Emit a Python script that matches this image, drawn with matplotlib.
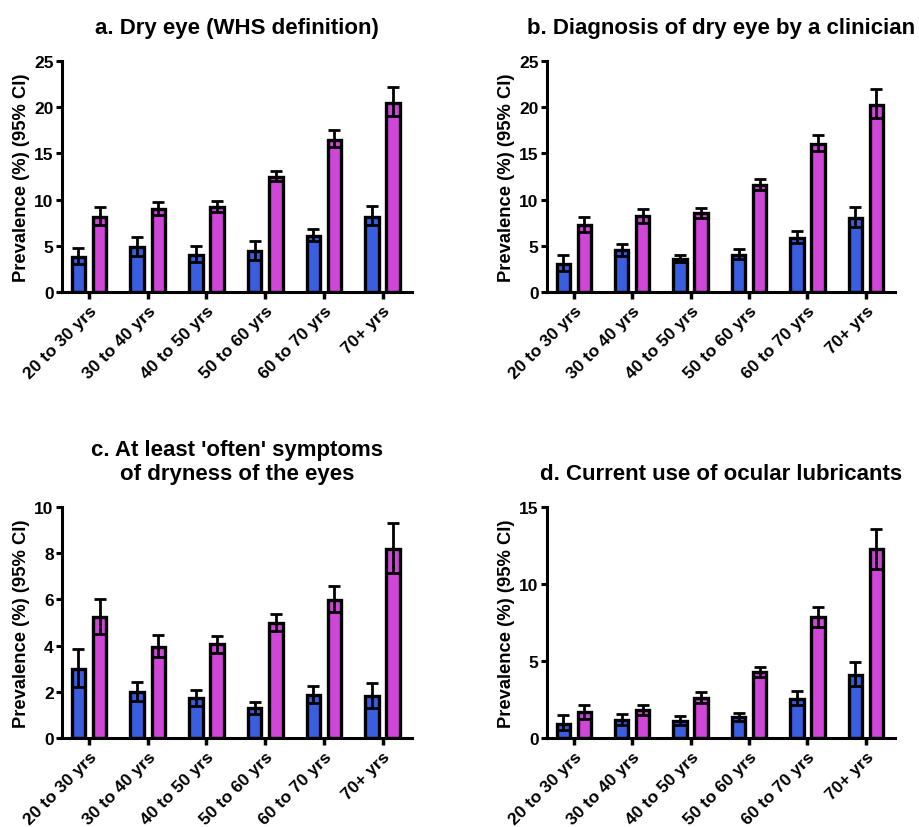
import numpy as np
import matplotlib
matplotlib.use("Agg")
import matplotlib.pyplot as plt

plt.rcParams['font.family'] = ['Liberation Sans', 'DejaVu Sans']
plt.rcParams['font.weight'] = 'bold'

age_groups = ["20 to 30 yrs", "30 to 40 yrs", "40 to 50 yrs",
              "50 to 60 yrs", "60 to 70 yrs", "70+ yrs"]

# a. Dry eye (WHS definition)
a_blue = [3.8, 4.85, 4.0, 4.4, 6.1, 8.1]
a_blue_hi = [4.75, 6.0, 5.0, 5.5, 6.85, 9.35]
a_blue_lo = [3.0, 3.9, 3.2, 3.5, 5.5, 7.2]
a_pink = [8.15, 8.95, 9.25, 12.5, 16.5, 20.5]
a_pink_hi = [9.2, 9.7, 9.9, 13.1, 17.5, 22.2]
a_pink_lo = [7.3, 8.3, 8.7, 12.0, 15.7, 19.0]

# b. Diagnosis of dry eye by a clinician
b_blue = [3.05, 4.5, 3.6, 4.05, 5.85, 8.05]
b_blue_hi = [4.0, 5.15, 4.05, 4.6, 6.6, 9.25]
b_blue_lo = [2.3, 3.9, 3.2, 3.6, 5.3, 7.0]
b_pink = [7.25, 8.2, 8.5, 11.6, 16.05, 20.25]
b_pink_hi = [8.15, 9.0, 9.05, 12.25, 16.95, 22.0]
b_pink_lo = [6.5, 7.5, 8.0, 11.0, 15.3, 18.8]

# c. At least 'often' symptoms
c_blue = [3.0, 2.0, 1.73, 1.31, 1.86, 1.8]
c_blue_hi = [3.86, 2.44, 2.07, 1.58, 2.27, 2.38]
c_blue_lo = [2.2, 1.6, 1.4, 1.05, 1.5, 1.3]
c_pink = [5.22, 3.96, 4.06, 5.0, 5.98, 8.19]
c_pink_hi = [6.0, 4.47, 4.42, 5.38, 6.58, 9.32]
c_pink_lo = [4.5, 3.5, 3.7, 4.65, 5.45, 7.15]

# d. Current use of ocular lubricants
d_blue = [0.93, 1.19, 1.1, 1.34, 2.54, 4.1]
d_blue_hi = [1.5, 1.56, 1.41, 1.6, 3.03, 4.94]
d_blue_lo = [0.5, 0.85, 0.85, 1.1, 2.15, 3.35]
d_pink = [1.67, 1.8, 2.62, 4.27, 7.83, 12.27]
d_pink_hi = [2.17, 2.15, 2.97, 4.64, 8.52, 13.59]
d_pink_lo = [1.25, 1.5, 2.3, 3.95, 7.2, 11.0]

titles = ["a. Dry eye (WHS definition)",
          "b. Diagnosis of dry eye by a clinician",
          "c. At least 'often' symptoms\nof dryness of the eyes",
          "d. Current use of ocular lubricants"]

blue = '#3a5ee0'
pink = '#cf46d8'

panels = [
    (a_blue, a_blue_lo, a_blue_hi, a_pink, a_pink_lo, a_pink_hi, 25, 5),
    (b_blue, b_blue_lo, b_blue_hi, b_pink, b_pink_lo, b_pink_hi, 25, 5),
    (c_blue, c_blue_lo, c_blue_hi, c_pink, c_pink_lo, c_pink_hi, 10, 2),
    (d_blue, d_blue_lo, d_blue_hi, d_pink, d_pink_lo, d_pink_hi, 15, 5),
]

W, H = 920, 828
# axes boxes in pixels: left, top, right, bottom
boxes = [(62, 62, 412, 293), (547, 62, 895, 293),
         (62, 508, 412, 739), (547, 508, 895, 739)]

fig = plt.figure(figsize=(9.2, 8.28), dpi=100)

for i, (box, p) in enumerate(zip(boxes, panels)):
    x0, y0, x1, y1 = box
    ax = fig.add_axes([x0 / W, 1 - y1 / H, (x1 - x0) / W, (y1 - y0) / H])
    bv, blo, bhi, pv, plo, phi, ymax, step = p
    x = np.arange(len(age_groups))
    off = 0.18
    w = 0.23
    for xs, vals, lo, hi, col in [(x - off, bv, blo, bhi, blue),
                                  (x + off, pv, plo, phi, pink)]:
        ax.bar(xs, vals, width=w, color=col, edgecolor='black',
               linewidth=2.4, zorder=2)
        vals = np.array(vals)
        yerr = [vals - np.array(lo), np.array(hi) - vals]
        ax.errorbar(xs, vals, yerr=yerr, fmt='none', ecolor='black',
                    elinewidth=2, capsize=4, capthick=2, zorder=3)
    ax.set_xlim(-0.46, 5.5)
    ax.set_ylim(0, ymax)
    ax.set_yticks(np.arange(0, ymax + 0.1, step))
    ax.set_xticks(x)
    ax.set_xticklabels(age_groups, rotation=45, ha='right',
                       rotation_mode='anchor', fontsize=12.5, fontweight='bold')
    for lab in ax.get_yticklabels():
        lab.set_fontsize(12.5)
        lab.set_fontweight('bold')
    ax.spines['top'].set_visible(False)
    ax.spines['right'].set_visible(False)
    ax.spines['left'].set_linewidth(2.2)
    ax.spines['bottom'].set_linewidth(2.2)
    ax.tick_params(axis='y', length=4, width=2.2, pad=2)
    ax.tick_params(axis='x', length=5, width=2.5, pad=3)
    ax.set_ylabel("Prevalence (%) (95% CI)", fontsize=13.2, fontweight='bold',
                  labelpad=3)
    ax.set_title(titles[i], fontsize=16, fontweight='bold', pad=20,
                 linespacing=1.2)

fig.savefig("out.png", dpi=100)
